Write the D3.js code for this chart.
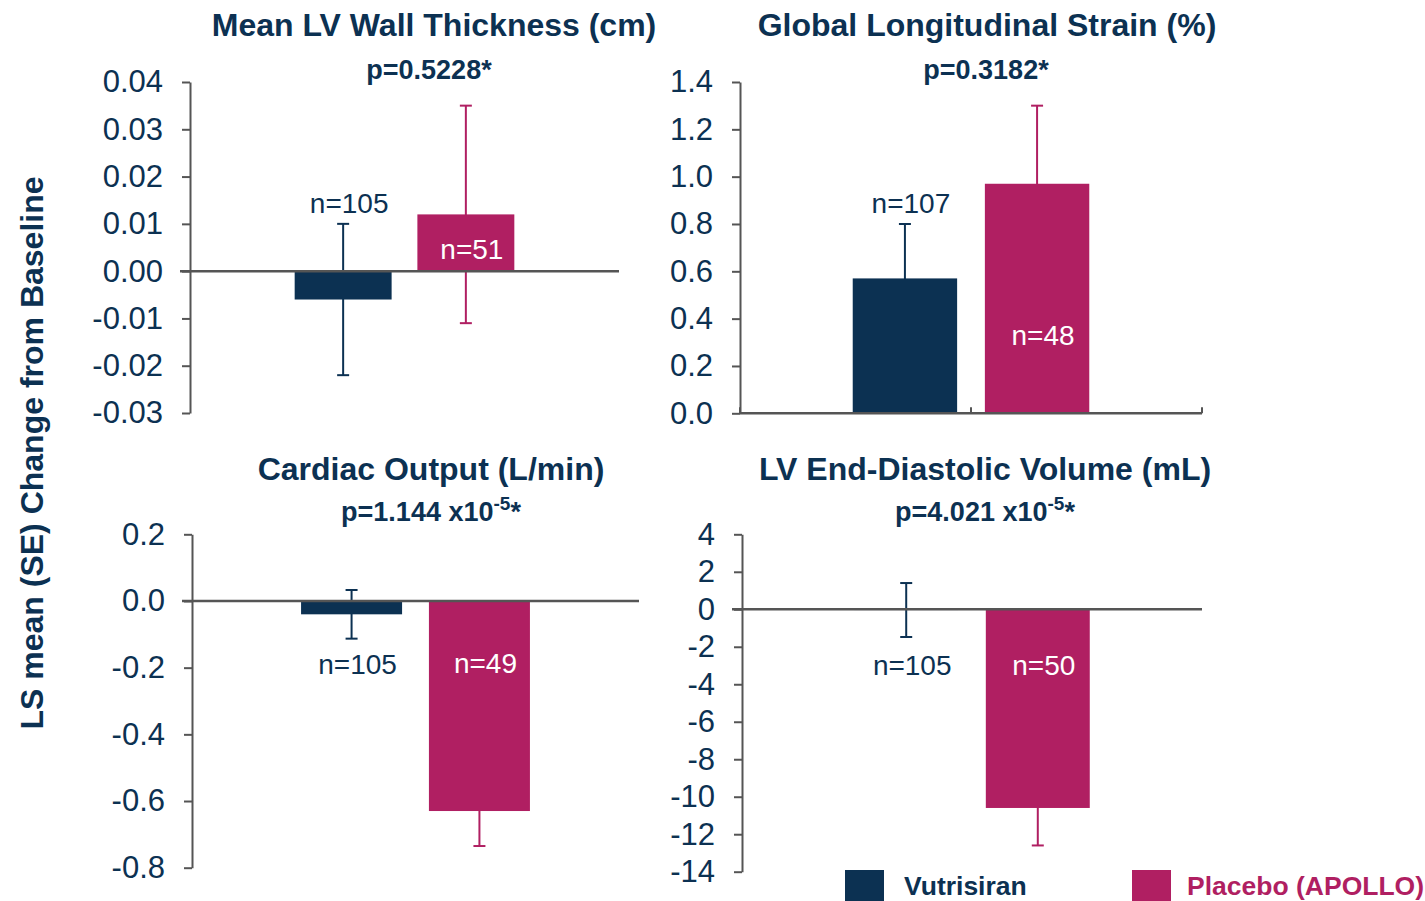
<!DOCTYPE html>
<html>
<head>
<meta charset="utf-8">
<script src="https://cdn.jsdelivr.net/npm/d3@7/dist/d3.min.js"></script>
<style>
  html, body { margin: 0; padding: 0; background: #ffffff; }
  svg { display: block; }
  text { font-family: "Liberation Sans", Arial, Helvetica, sans-serif; }
</style>
</head>
<body>
<svg id="chart" width="1425" height="901"></svg>
<script>
// ---- data ----
const groups = ["Vutrisiran", "Placebo (APOLLO)"];
const panelTitles = [
  "Mean LV Wall Thickness (cm)",
  "Global Longitudinal Strain (%)",
  "Cardiac Output (L/min)",
  "LV End-Diastolic Volume (mL)"
];
const pLabels = ["p=0.5228*", "p=0.3182*", "p=1.144 x10", "p=4.021 x10"];
const pExponents = [null, null, "-5", "-5"];

const vutMean = [-0.006, 0.57, -0.04, -0.04];
const vutSE   = [0.016, 0.23, 0.073, 1.44];
const vutN    = [105, 107, 105, 105];
const plaMean = [0.012, 0.97, -0.63, -10.6];
const plaSE   = [0.023, 0.33, 0.105, 2.0];
const plaN    = [51, 48, 49, 50];

const ticksWall   = [0.04, 0.03, 0.02, 0.01, 0.00, -0.01, -0.02, -0.03];
const ticksStrain = [1.4, 1.2, 1.0, 0.8, 0.6, 0.4, 0.2, 0.0];
const ticksOutput = [0.2, 0.0, -0.2, -0.4, -0.6, -0.8];
const ticksVolume = [4, 2, 0, -2, -4, -6, -8, -10, -12, -14];
const tickDecimals = [2, 1, 1, 0];

const yAxisTitle = "LS mean (SE) Change from Baseline";

// ---- layout ----
const NAVY = "#0c3152";
const MAGENTA = "#b01f62";
const AXIS = "#555555";
const seriesColor = [NAVY, MAGENTA];

const panels = [
  { ticks: ticksWall,   x0: 190, x1: 619,  yTop: 82,    yBot: 413,   zeroFrom: 180, titleX: 434, pX: 429, titleY: 36,  pY: 79,
    labelAt: [0.0123, 0.0025], labelColor: [NAVY, "#ffffff"], catTicks: false },
  { ticks: ticksStrain, x0: 740, x1: 1202, yTop: 82,    yBot: 413.3, zeroFrom: 740, titleX: 987, pX: 986, titleY: 36,  pY: 79,
    labelAt: [0.847, 0.289], labelColor: [NAVY, "#ffffff"], catTicks: true },
  { ticks: ticksOutput, x0: 192, x1: 639,  yTop: 534.3, yBot: 867.7, zeroFrom: 182, titleX: 431, pX: 431, titleY: 480, pY: 521,
    labelAt: [-0.219, -0.216], labelColor: [NAVY, "#ffffff"], catTicks: false },
  { ticks: ticksVolume, x0: 742, x1: 1202, yTop: 534.3, yBot: 871.7, zeroFrom: 732, titleX: 985, pX: 985, titleY: 480, pY: 521,
    labelAt: [-3.52, -3.52], labelColor: [NAVY, "#ffffff"], catTicks: false }
];

const svg = d3.select("#chart");

function fmtTick(v, dec) {
  const s = Math.abs(v).toFixed(dec);
  return (v < 0 && +s !== 0 ? "-" : "") + s;
}

panels.forEach((p, i) => {
  const g = svg.append("g");
  const domain = d3.extent(p.ticks);
  const y = d3.scaleLinear().domain(domain).range([p.yBot, p.yTop]);
  const x = d3.scaleBand().domain(groups).range([p.x0, p.x1])
    .paddingInner(0.21).paddingOuter(0.853);

  const means = [vutMean[i], plaMean[i]];
  const ses = [vutSE[i], plaSE[i]];
  const ns = [vutN[i], plaN[i]];
  const rows = groups.map((k, j) => ({ key: k, mean: means[j], se: ses[j], n: ns[j], color: seriesColor[j], j }));

  // y axis
  const axis = d3.axisLeft(y)
    .tickValues(p.ticks)
    .tickSize(8)
    .tickSizeOuter(0)
    .tickPadding(19)
    .tickFormat(v => fmtTick(v, tickDecimals[i]));
  const ag = g.append("g").attr("transform", `translate(${p.x0},0)`).call(axis);
  ag.select(".domain").attr("stroke", AXIS).attr("stroke-width", 2);
  ag.selectAll(".tick line").attr("stroke", AXIS).attr("stroke-width", 2);
  ag.selectAll(".tick text")
    .attr("fill", NAVY)
    .style("font-size", "31px")
    .style("font-family", '"Liberation Sans", Arial, sans-serif');

  // error bars (drawn beneath the bars)
  const cap = 6;
  rows.forEach(r => {
    const cx = x(r.key) + x.bandwidth() / 2;
    const yHi = y(r.mean + r.se), yLo = y(r.mean - r.se);
    const eg = g.append("g").attr("stroke", r.color).attr("stroke-width", 2);
    eg.append("line").attr("x1", cx).attr("x2", cx).attr("y1", yHi).attr("y2", yLo);
    eg.append("line").attr("x1", cx - cap).attr("x2", cx + cap).attr("y1", yHi).attr("y2", yHi);
    eg.append("line").attr("x1", cx - cap).attr("x2", cx + cap).attr("y1", yLo).attr("y2", yLo);
  });

  // bars
  g.selectAll("rect.bar").data(rows).join("rect")
    .attr("class", "bar")
    .attr("x", d => x(d.key))
    .attr("width", x.bandwidth())
    .attr("y", d => Math.min(y(d.mean), y(0)))
    .attr("height", d => Math.abs(y(d.mean) - y(0)))
    .attr("fill", d => d.color);

  // zero line / category axis
  g.append("line")
    .attr("x1", p.zeroFrom).attr("x2", p.x1)
    .attr("y1", y(0)).attr("y2", y(0))
    .attr("stroke", AXIS).attr("stroke-width", 2.5);
  if (p.catTicks) {
    [p.x0, (p.x0 + p.x1) / 2, p.x1].forEach(tx => {
      g.append("line").attr("x1", tx).attr("x2", tx)
        .attr("y1", y(0)).attr("y2", y(0) - 6)
        .attr("stroke", AXIS).attr("stroke-width", 2);
    });
  }

  // n labels
  rows.forEach(r => {
    g.append("text")
      .attr("x", x(r.key) + x.bandwidth() / 2 + 6)
      .attr("y", y(p.labelAt[r.j]))
      .attr("text-anchor", "middle")
      .attr("fill", p.labelColor[r.j])
      .style("font-size", "28px")
      .text("n=" + r.n);
  });

  // title and p-value
  g.append("text")
    .attr("x", p.titleX).attr("y", p.titleY)
    .attr("text-anchor", "middle")
    .attr("fill", NAVY)
    .style("font-size", "32px").style("font-weight", "bold")
    .text(panelTitles[i]);
  const pt = g.append("text")
    .attr("x", p.pX).attr("y", p.pY)
    .attr("text-anchor", "middle")
    .attr("fill", NAVY)
    .style("font-size", "27px").style("font-weight", "bold");
  pt.append("tspan").text(pLabels[i]);
  if (pExponents[i]) {
    pt.append("tspan").attr("dy", -11).style("font-size", "19px").text(pExponents[i]);
    pt.append("tspan").attr("dy", 11).text("*");
  }
});

// shared y-axis title
svg.append("text")
  .attr("transform", "translate(43,453) rotate(-90)")
  .attr("text-anchor", "middle")
  .attr("fill", NAVY)
  .style("font-size", "32px").style("font-weight", "bold")
  .text(yAxisTitle);

// legend
const legendX = [845, 1132];
const legendText = [904, 1187];
groups.forEach((k, j) => {
  svg.append("rect")
    .attr("x", legendX[j]).attr("y", 870)
    .attr("width", 39).attr("height", 31)
    .attr("fill", seriesColor[j]);
  svg.append("text")
    .attr("x", legendText[j]).attr("y", 895)
    .attr("fill", seriesColor[j])
    .style("font-size", "26.5px").style("font-weight", "bold")
    .text(k);
});
</script>
</body>
</html>
